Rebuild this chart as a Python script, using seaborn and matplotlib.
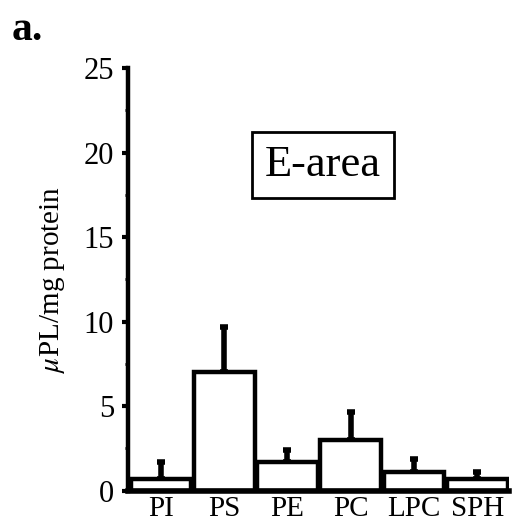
import matplotlib
matplotlib.use("Agg")
import matplotlib.pyplot as plt
import seaborn as sns
import numpy as np
import pandas as pd

# dados
lipidios = ["PI", "PS", "PE", "PC", "LPC", "SPH"]
medias = [0.7, 7.0, 1.7, 3.0, 1.1, 0.7]
erros = [1.0, 2.7, 0.7, 1.65, 0.8, 0.4]
y_ticks = [0, 5, 10, 15, 20, 25]

sns.set_theme(style="ticks")
plt.rcParams["font.family"] = ["Liberation Serif", "DejaVu Serif"]
plt.rcParams["mathtext.fontset"] = "stix"

df = pd.DataFrame({"lipidio": lipidios, "valor": medias, "erro": erros})

fig = plt.figure(figsize=(5.14, 5.29), dpi=100)
ax = fig.add_axes([0.249, 0.0725, 0.741, 0.7985])

sns.barplot(
    data=df, x="lipidio", y="valor", order=lipidios,
    color="white", edgecolor="black", linewidth=3.2,
    width=0.96, errorbar=None, ax=ax, zorder=2,
)

# barras de erro só para cima
ax.errorbar(
    df["lipidio"], df["valor"], yerr=[np.zeros(len(df)), df["erro"]],
    fmt="none", ecolor="black", elinewidth=4, capsize=3, capthick=4,
    zorder=1,
)

ax.set_ylim(0, 25)
ax.set_xlim(-0.52, 5.5)
ax.set_yticks(y_ticks)
ax.set_yticks(np.arange(2.5, 25, 5), minor=True)
ax.tick_params(axis="y", which="major", direction="out", length=4, width=3,
               labelsize=22, pad=6, color="black", labelcolor="black")
ax.tick_params(axis="y", which="minor", direction="out", length=2, width=2,
               color="black")
ax.tick_params(axis="x", length=0, labelsize=21, pad=4, labelcolor="black")

sns.despine(ax=ax, top=True, right=True)
ax.spines["left"].set_linewidth(3.2)
ax.spines["bottom"].set_linewidth(4)
ax.spines["left"].set_color("black")
ax.spines["bottom"].set_color("black")
ax.set_facecolor("white")

ax.set_xlabel("")
ax.set_ylabel(r"$\mu$PL/mg protein", fontsize=21, labelpad=12, color="black")

ax.text(
    0.512, 0.771, "E-area", transform=ax.transAxes, fontsize=32,
    ha="center", va="center", color="black",
    bbox=dict(boxstyle="square,pad=0.3", facecolor="white",
              edgecolor="black", linewidth=2),
)

fig.text(0.022, 0.925, "a.", fontsize=30, fontweight="bold", color="black")

plt.savefig("out.png", dpi=100, facecolor="white")
plt.close()
